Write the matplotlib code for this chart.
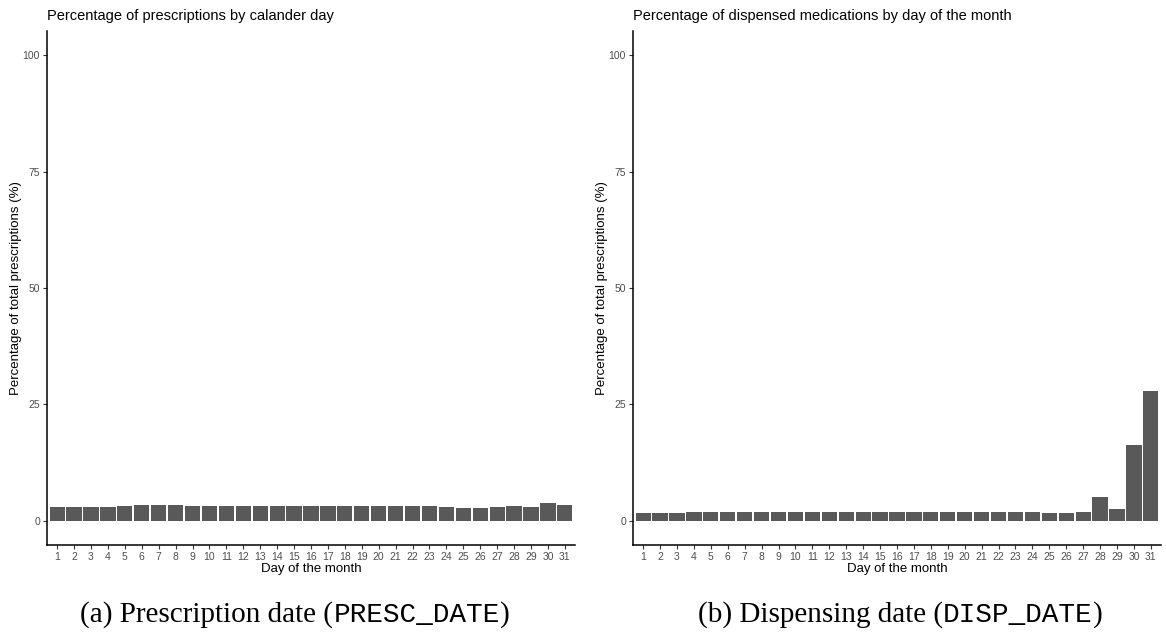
import matplotlib
matplotlib.use("Agg")
import matplotlib.pyplot as plt

days = list(range(1, 32))
day_labels = [str(d) for d in days]

presc_pct = [2.85, 2.85, 3.0, 3.0, 3.2, 3.3, 3.3, 3.35, 3.2, 3.2, 3.2, 3.2, 3.2, 3.2, 3.2, 3.1,
             3.05, 3.1, 3.2, 3.2, 3.05, 3.1, 3.1, 2.9, 2.7, 2.7, 2.9, 3.2, 2.9, 3.7, 3.45]
disp_pct = [1.63, 1.63, 1.7, 1.78, 1.78, 1.85, 1.85, 1.92, 1.92, 1.85, 1.85, 1.85, 1.92, 1.85, 1.85, 1.92,
            1.78, 1.78, 1.92, 1.92, 1.85, 1.85, 1.92, 1.85, 1.63, 1.56, 1.78, 4.97, 2.41, 16.2, 27.9]

titles = ["Percentage of prescriptions by calander day",
          "Percentage of dispensed medications by day of the month"]
y_ticks = [0, 25, 50, 75, 100]
x_title = "Day of the month"
y_title = "Percentage of total prescriptions (%)"

W, H = 1166, 633
fig = plt.figure(figsize=(W / 100, H / 100), dpi=100)
plt.rcParams['font.family'] = ['Liberation Sans', 'DejaVu Sans']

bar_color = "#595959"
tick_color = "#4D4D4D"

panels = [(47, presc_pct, titles[0]), (633, disp_pct, titles[1])]
for x0, vals, title in panels:
    ax = fig.add_axes([x0 / W, (H - 545) / H, 528 / W, (545 - 31) / H])
    ax.bar(days, vals, width=0.9, color=bar_color, edgecolor="none")
    ax.set_xlim(0.4, 31.6)
    ax.set_ylim(-5.25, 105.25)
    ax.set_xticks(days)
    ax.set_xticklabels(day_labels)
    ax.set_yticks(y_ticks)
    for s in ["top", "right"]:
        ax.spines[s].set_visible(False)
    for s in ["left", "bottom"]:
        ax.spines[s].set_linewidth(1.1)
        ax.spines[s].set_color("black")
    ax.tick_params(axis="both", length=3, width=0.8, color="#333333", labelcolor=tick_color,
                   labelsize=7.5, pad=2)
    ax.set_xlabel(x_title, fontsize=9.5, labelpad=1)
    ax.set_ylabel(y_title, fontsize=9.5, labelpad=0.5)
    ax.set_title(title, fontsize=10.5, loc="left", x=0, pad=8)

# Subfigure captions (serif with monospace code)
captions = [(295, "(a) Prescription date (", "PRESC_DATE", ")"),
            (900, "(b) Dispensing date (", "DISP_DATE", ")")]
renderer = fig.canvas.get_renderer()
for cx, pre, code, post in captions:
    parts = [(pre, "Liberation Serif", 21), (code, "Liberation Mono", 20), (post, "Liberation Serif", 21)]
    texts = []
    for s, fam, fs in parts:
        t = fig.text(0, 0, s, fontsize=fs, family=fam, va="baseline")
        texts.append(t)
    widths = [t.get_window_extent(renderer).width for t in texts]
    total = sum(widths)
    x = cx - total / 2
    for t, w in zip(texts, widths):
        t.set_position((x / W, (H - 622) / H))
        x += w

fig.savefig("out.png", dpi=100)
